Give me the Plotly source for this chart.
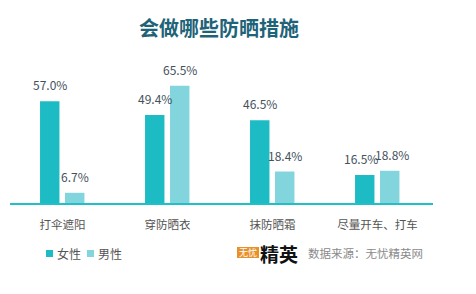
import plotly.graph_objects as go

# Survey: sun-protection measures by gender (%)
categories = ["打伞遮阳", "穿防晒衣", "抹防晒霜", "尽量开车、打车"]
female = [57.0, 49.4, 46.5, 16.5]
male = [6.7, 65.5, 18.4, 18.8]
series_names = ["女性", "男性"]
title_text = "会做哪些防晒措施"
source_text = "数据来源：无忧精英网"

C_FEMALE = "#1dbcc4"
C_MALE = "#82d5dc"
C_BASE = "#1fc1c7"
C_LABEL = "#44515c"
FONT = "Noto Sans CJK SC"

W, H = 476, 294
L, R, T, B = 10, 46, 60, 89
PW, PH = W - L - R, H - T - B
PX_PER_UNIT = 1.82  # pixels per percentage point
y_top = PH / PX_PER_UNIT


def px_x(px):
    """Pixel column -> paper x (paper spans the plot area)."""
    return (px - L) / PW


def px_y(py):
    """Pixel row (from top) -> paper y."""
    return (H - B - py) / PH


xs = list(range(len(categories)))
BAR_W = 0.185
OFF_F = -0.214
OFF_M = 0.024

fig = go.Figure()
fig.add_trace(go.Bar(x=xs, y=female, name=series_names[0], width=BAR_W, offset=OFF_F,
                     marker=dict(color=C_FEMALE, line=dict(width=0)), showlegend=False))
fig.add_trace(go.Bar(x=xs, y=male, name=series_names[1], width=BAR_W, offset=OFF_M,
                     marker=dict(color=C_MALE, line=dict(width=0)), showlegend=False))

annotations = []
# value labels; the last group's labels are nudged apart so they don't collide
nudge_f = [0, 0, 0, -4]
nudge_m = [0, 0, 0, 2]
for i in xs:
    for val, off, nudge in ((female[i], OFF_F, nudge_f[i]), (male[i], OFF_M, nudge_m[i])):
        annotations.append(dict(
            x=i + off + BAR_W / 2, y=val, xref="x", yref="y",
            text=f"{val:.1f}%", showarrow=False, yanchor="bottom",
            yshift=6, xshift=nudge,
            font=dict(family=FONT, size=12, color=C_LABEL)))

# title
annotations.append(dict(x=px_x(219), y=px_y(27), xref="paper", yref="paper",
                        text=f"<b>{title_text}</b>", showarrow=False,
                        xanchor="center", yanchor="middle",
                        font=dict(family=FONT, size=20, color="#1e6378")))

# legend (small squares + names)
leg_items = [(46, series_names[0], C_FEMALE), (87, series_names[1], C_MALE)]
shapes = []
for px, name, col in leg_items:
    shapes.append(dict(type="rect", xref="paper", yref="paper",
                       x0=px_x(px), x1=px_x(px + 7),
                       y0=px_y(257), y1=px_y(250),
                       fillcolor=col, line=dict(width=0)))
    annotations.append(dict(x=px_x(px + 9), y=px_y(253), xref="paper", yref="paper",
                            text=name, showarrow=False, xanchor="left", yanchor="middle",
                            font=dict(family=FONT, size=12, color="#555555")))

# brand mark and source
shapes.append(dict(type="rect", xref="paper", yref="paper",
                   x0=px_x(237), x1=px_x(259), y0=px_y(258), y1=px_y(247),
                   fillcolor="#e8902a", line=dict(width=0)))
annotations.append(dict(x=px_x(248), y=px_y(252.5), xref="paper", yref="paper",
                        text="无忧", showarrow=False, xanchor="center", yanchor="middle",
                        font=dict(family=FONT, size=9, color="white")))
annotations.append(dict(x=px_x(258), y=px_y(253), xref="paper", yref="paper",
                        text="<b>精英</b>", showarrow=False, xanchor="left", yanchor="middle",
                        font=dict(family=FONT, size=19, color="#111111")))
annotations.append(dict(x=px_x(306), y=px_y(253), xref="paper", yref="paper",
                        text=source_text, showarrow=False, xanchor="left", yanchor="middle",
                        font=dict(family=FONT, size=11.5, color="#8a8a8a")))

# thick baseline under the bars
shapes.append(dict(type="line", xref="paper", yref="y",
                   x0=0, x1=px_x(433), y0=0, y1=0,
                   line=dict(color=C_BASE, width=4), layer="above"))

fig.update_layout(
    width=W, height=H,
    margin=dict(l=L, r=R, t=T, b=B, pad=0),
    paper_bgcolor="white", plot_bgcolor="white",
    showlegend=False,
    xaxis=dict(range=[-0.5, 3.5], tickvals=xs, ticktext=categories,
               showgrid=False, zeroline=False, showline=False, ticks="",
               ticklabelstandoff=11,
               tickfont=dict(family=FONT, size=11.5, color="#555555")),
    yaxis=dict(range=[0, y_top], visible=False, fixedrange=True),
    annotations=annotations,
    shapes=shapes,
)

fig.write_html("out.html")
